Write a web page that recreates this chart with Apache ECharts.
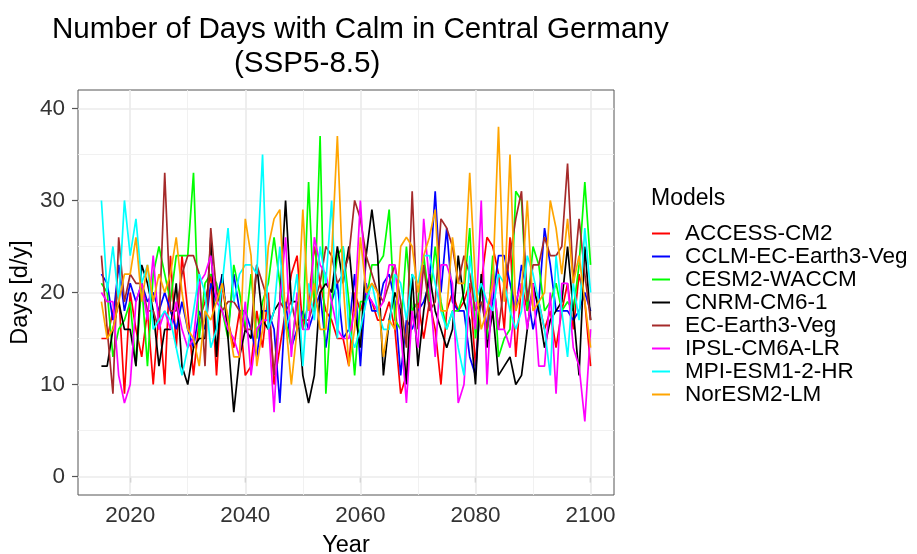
<!DOCTYPE html>
<html>
<head>
<meta charset="utf-8">
<script src="https://cdn.jsdelivr.net/npm/echarts@6/dist/echarts.min.js"></script>
<style>
html,body{margin:0;padding:0;background:#fff;}
#chart{width:917px;height:554px;}
</style>
</head>
<body>
<div id="chart"></div>
<script>
var titleLine1 = "Number of Days with Calm in Central Germany";
var titleLine2 = "(SSP5-8.5)";
var legendTitle = "Models";
var xName = "Year";
var yName = "Days [d/y]";
var xTicks = [2020, 2040, 2060, 2080, 2100];
var yTicks = [0, 10, 20, 30, 40];
var xMinorGrid = [2030, 2050, 2070, 2090];
var yMinorGrid = [5, 15, 25, 35];

var models = ["ACCESS-CM2","CCLM-EC-Earth3-Veg","CESM2-WACCM","CNRM-CM6-1","EC-Earth3-Veg","IPSL-CM6A-LR","MPI-ESM1-2-HR","NorESM2-LM"];
var colors = ["#FF0000","#0000FF","#00FF00","#000000","#A52A2A","#FF00FF","#00FFFF","#FFA500"];

var years = [];
for (var y = 2015; y <= 2100; y++) years.push(y);

var accessCM2 = [15,15,18,20,9,20,16,13,18,10,18,10,24,14,24,18,
 11,17,19,22,11,21,17,14,18,11,12,18,14,20,10,14,
 18,22,24,16,19,25,21,18,17,15,15,12,20,18,20,19,
 17,17,19,16,9,11,18,19,15,19,16,10,18,20,18,19,
 21,12,21,26,25,22,16,26,13,21,18,20,19,16,18,
 14,18,21,16,22,19,12];
var cclm = [22,21,17,23,18,21,19,21,19,20,18,20,18,16,19,16,
 14,18,16,21,19,22,16,22,18,18,16,13,18,18,16,8,
 19,14,16,18,16,18,20,14,19,21,15,16,22,12,21,18,
 18,21,22,19,11,17,16,18,19,21,31,20,27,19,18,18,
 13,11,21,16,19,24,24,21,18,23,20,16,19,27,23,
 18,18,18,17,18,20,18];
var cesm2 = [21,20,13,16,17,19,12,21,12,22,25,22,19,24,24,24,
 33,15,21,22,21,18,15,23,20,16,22,15,19,21,26,21,
 17,14,19,16,32,18,37,9,19,24,25,19,11,19,19,23,
 23,24,29,17,16,25,18,19,24,19,25,19,16,18,18,20,
 27,15,21,15,24,13,15,16,31,30,18,25,23,18,19,
 21,18,19,18,23,32,23];
var cnrm = [12,12,16,19,16,16,12,23,21,18,12,16,16,21,12,10,
 14,15,15,26,13,22,15,7,13,16,15,23,17,16,18,19,
 30,19,19,11,8,11,20,21,20,25,21,25,18,14,24,29,
 24,11,17,20,18,10,22,12,18,22,18,16,14,16,24,19,
 17,10,22,14,18,11,12,13,10,11,16,21,18,14,17,
 18,19,25,18,11,25,17];
var ecEarth = [24,16,9,26,19,22,21,21,18,18,16,33,18,18,22,24,
 24,22,12,27,20,18,19,19,18,16,16,23,21,19,11,19,
 18,19,16,17,17,19,21,25,24,21,22,24,30,28,24,22,
 20,19,21,23,19,14,31,16,23,18,19,28,27,25,21,24,
 22,18,19,16,22,16,21,24,28,31,19,23,23,26,24,
 24,25,34,21,28,22,17];
var ipsl = [20,19,19,11,8,10,19,21,17,24,16,18,16,19,16,14,
 15,21,22,24,19,18,16,15,13,19,11,16,17,17,7,19,
 26,13,20,16,16,26,23,22,19,16,15,15,18,30,20,19,
 18,19,23,23,16,8,18,14,28,21,13,23,23,21,8,10,
 20,16,30,10,22,16,16,14,19,21,16,21,12,12,20,
 9,21,21,14,12,6,16];
var mpi = [30,20,25,19,30,24,28,21,23,16,17,18,17,14,11,14,
 18,22,20,14,16,21,27,19,22,23,23,22,35,16,18,25,
 16,18,22,12,21,17,25,21,30,15,25,16,14,16,19,21,
 18,16,16,22,21,17,22,21,24,24,21,18,16,18,14,11,
 24,19,21,19,18,22,21,18,16,18,24,22,19,16,11,
 24,18,13,21,17,27,20];
var norESM = [19,15,16,19,22,22,26,19,23,19,22,20,22,26,20,16,
 15,12,18,17,19,21,17,13,13,28,24,12,16,25,28,29,
 17,10,16,29,18,21,16,16,24,37,21,12,16,26,20,21,
 20,13,17,16,25,26,25,20,24,26,29,18,18,26,21,21,
 33,21,16,18,21,38,19,35,18,20,30,18,19,20,30,
 27,22,28,21,24,19,14];

var seriesValues = [accessCM2, cclm, cesm2, cnrm, ecEarth, ipsl, mpi, norESM];

var FONT = '"Liberation Sans", Arial, Helvetica, sans-serif';

var gridLines = [];
xTicks.forEach(function(v){ gridLines.push({xAxis: v, lineStyle:{color:'#EBEBEB', width:1.7, type:'solid'}}); });
xMinorGrid.forEach(function(v){ gridLines.push({xAxis: v, lineStyle:{color:'#EFEFEF', width:0.9, type:'solid'}}); });
yTicks.forEach(function(v){ gridLines.push({yAxis: v, lineStyle:{color:'#EBEBEB', width:1.7, type:'solid'}}); });
yMinorGrid.forEach(function(v){ gridLines.push({yAxis: v, lineStyle:{color:'#EFEFEF', width:0.9, type:'solid'}}); });

var series = [{
  name: '__grid', type: 'line', data: [], silent: true, z: 1,
  markLine: { silent: true, symbol: ['none','none'], label: {show:false}, animation:false, z: 1, data: gridLines }
}];
models.forEach(function(m, i){
  series.push({
    name: m, type: 'line', showSymbol: false, symbol: 'none', z: 2 + i,
    lineStyle: { color: colors[i], width: 1.7 },
    itemStyle: { color: colors[i] },
    data: years.map(function(yr, j){ return [yr, seriesValues[i][j]]; })
  });
});

var chart = echarts.init(document.getElementById('chart'), null, {renderer:'canvas'});
chart.setOption({
  animation: false,
  backgroundColor: '#FFFFFF',
  textStyle: { fontFamily: FONT },
  title: [
    { text: titleLine1, left: 47, top: 10, textStyle: { fontFamily: FONT, fontSize: 29.6, fontWeight: 'normal', color: '#000' } },
    { text: titleLine2, left: 229, top: 44, textStyle: { fontFamily: FONT, fontSize: 29.6, fontWeight: 'normal', color: '#000' } },
    { text: legendTitle, left: 651, top: 187, padding: 0, textStyle: { fontFamily: FONT, fontSize: 23, fontWeight: 'normal', color: '#000' } }
  ],
  legend: {
    data: models.map(function(m){ return { name: m, icon: 'rect' }; }),
    orient: 'vertical', left: 652, top: 222, padding: 0,
    itemWidth: 18, itemHeight: 2, itemGap: 0,
    textStyle: { fontFamily: FONT, fontSize: 22.5, lineHeight: 22.3, color: '#000', padding: [0,0,0,10] },
    selectedMode: false
  },
  grid: { left: 78, right: 303, top: 90, bottom: 59, show: true, borderColor: '#555555', borderWidth: 1,
          backgroundColor: '#FFFFFF', containLabel: false, outerBoundsMode: 'none' },
  xAxis: {
    type: 'value', min: 2010.93, max: 2104.07,
    name: xName, nameLocation: 'middle', nameGap: 39, nameMoveOverlap: false,
    nameTextStyle: { fontFamily: FONT, fontSize: 23.5, color: '#000' },
    axisLine: { show: false },
    axisTick: { show: true, length: 6, lineStyle: { color: '#555555', width: 1.2 }, customValues: xTicks },
    axisLabel: { fontFamily: FONT, fontSize: 22.5, color: '#333333', margin: 9, customValues: xTicks,
                 formatter: function(v){ return String(v); } },
    splitLine: { show: false }
  },
  yAxis: {
    type: 'value', min: -2, max: 42,
    name: yName, nameLocation: 'middle', nameGap: 45, nameMoveOverlap: false,
    nameTextStyle: { fontFamily: FONT, fontSize: 23.5, color: '#000' },
    axisLine: { show: false },
    axisTick: { show: true, length: 6, lineStyle: { color: '#555555', width: 1.2 }, customValues: yTicks },
    axisLabel: { fontFamily: FONT, fontSize: 22.5, color: '#333333', margin: 13, customValues: yTicks },
    splitLine: { show: false }
  },
  series: series
});
</script>
</body>
</html>
